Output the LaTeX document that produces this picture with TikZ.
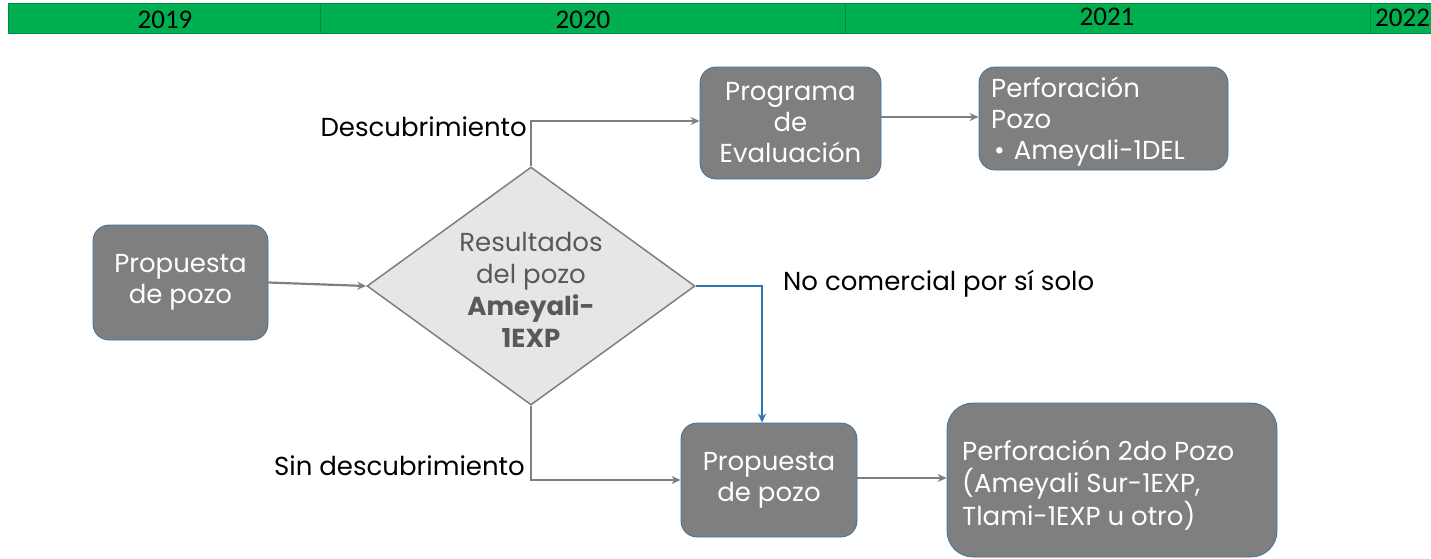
\documentclass[tikz,border=0pt]{standalone}
\usepackage{fontspec}
\setmainfont{Poppins}
\newfontfamily\yearfont{Carlito}
\usetikzlibrary{shapes.geometric,arrows.meta}
\definecolor{bargreen}{HTML}{00B050}
\definecolor{boxgray}{HTML}{7F7F7F}
\definecolor{boxedge}{HTML}{41719C}
\definecolor{diafill}{HTML}{E7E6E6}
\definecolor{diatext}{HTML}{595959}
\definecolor{arrblue}{HTML}{2E75B6}
\begin{document}
\begin{tikzpicture}[x=1pt,y=-1pt,
  box/.style={draw=boxedge, line width=0.8pt, fill=boxgray, rounded corners=16pt, text=white, align=center, inner sep=0pt, font=\fontsize{26}{31}\selectfont},
  yearbox/.style={draw=bargreen!80!black, line width=0.5pt, fill=bargreen, inner sep=0pt},
  yeartext/.style={font=\yearfont\fontsize{27}{28}\selectfont, inner sep=0pt},
  conn/.style={draw=boxgray, line width=2.2pt, -{Stealth[length=9pt,width=8pt]}},
  lbl/.style={font=\fontsize{26}{28}\selectfont, text=black, inner sep=0pt}
]
\useasboundingbox (0,0) rectangle (1431,558);
% year bar
\node[yearbox, minimum width=312pt, minimum height=30pt] (y19) at (164,18) {};
\node[yearbox, minimum width=525pt, minimum height=30pt] (y20) at (582.5,18) {};
\node[yearbox, minimum width=525pt, minimum height=30pt] (y21) at (1107.5,18) {};
\node[yearbox, minimum width=80pt, minimum height=30pt] (y22) at (1410,18) {};
\node[yeartext] (t19) at (165,20) {2019};
\node[yeartext] (t20) at (583,20) {2020};
\node[yeartext] (t21) at (1107,17) {2021};
\node[yeartext, anchor=west] (t22) at (1375,18) {2022};
% nodes
\node[box, minimum width=175pt, minimum height=115pt] (p1) at (180.5,282.5) {Propuesta\\de pozo};
\node[diamond, draw=boxgray, line width=1.5pt, fill=diafill, aspect=1.378,
      minimum width=328pt, minimum height=238pt, inner sep=0pt] (d) at (531,286) {};
\node[text=diatext, align=center, inner sep=0pt, font=\fontsize{26}{32}\selectfont] (dt) at (531,290)
      {Resultados\\del pozo\\\textbf{Ameyali-}\\\textbf{1EXP}};
\node[box, minimum width=181pt, minimum height=112pt] (prog) at (790.5,123) {Programa\\de\\Evaluación};
\node[box, minimum width=249pt, minimum height=103pt] (perf) at (1103.5,118.5) {};
\node[text=white, align=left, inner sep=0pt, anchor=west, font=\fontsize{26}{31}\selectfont] (perft) at (991,121.5)
  {Perforación\\Pozo\\\hspace*{3pt}\textbullet\hspace{9pt}Ameyali-1DEL};
\node[box, minimum width=176pt, minimum height=114pt] (p2) at (769,480) {Propuesta\\de pozo};
\node[box, minimum width=330pt, minimum height=154pt, rounded corners=26pt] (perf2) at (1112,480) {};
\node[text=white, align=left, inner sep=0pt, anchor=west, font=\fontsize{26}{32.5}\selectfont] (perf2t) at (962,485)
  {Perforación 2do Pozo\\(Ameyali Sur-1EXP,\\Tlami-1EXP u otro)};
% connectors
\draw[conn] (p1.east) -- (d.west);
\coordinate (c1) at (531,121);
\draw[conn] (d.north) -- (c1) -- (prog.west |- c1);
\draw[conn] (prog.east |- 0,117) -- (perf.west |- 0,117);
\coordinate (c2) at (531,480);
\draw[conn] (d.south) -- (c2) -- (p2.west);
\coordinate (c3) at (762,286);
\draw[conn, draw=arrblue, line width=2pt] (d.east) -- (c3) -- (c3 |- p2.north);
\draw[conn] (p2.east |- 0,478) -- (perf2.west |- 0,478);
% labels
\node[lbl, anchor=east] (l1) at (527,127) {Descubrimiento};
\node[lbl, anchor=east] (l2) at (525,466) {Sin descubrimiento};
\node[lbl, anchor=west] (l3) at (783,284) {No comercial por sí solo};
\end{tikzpicture}
\end{document}
